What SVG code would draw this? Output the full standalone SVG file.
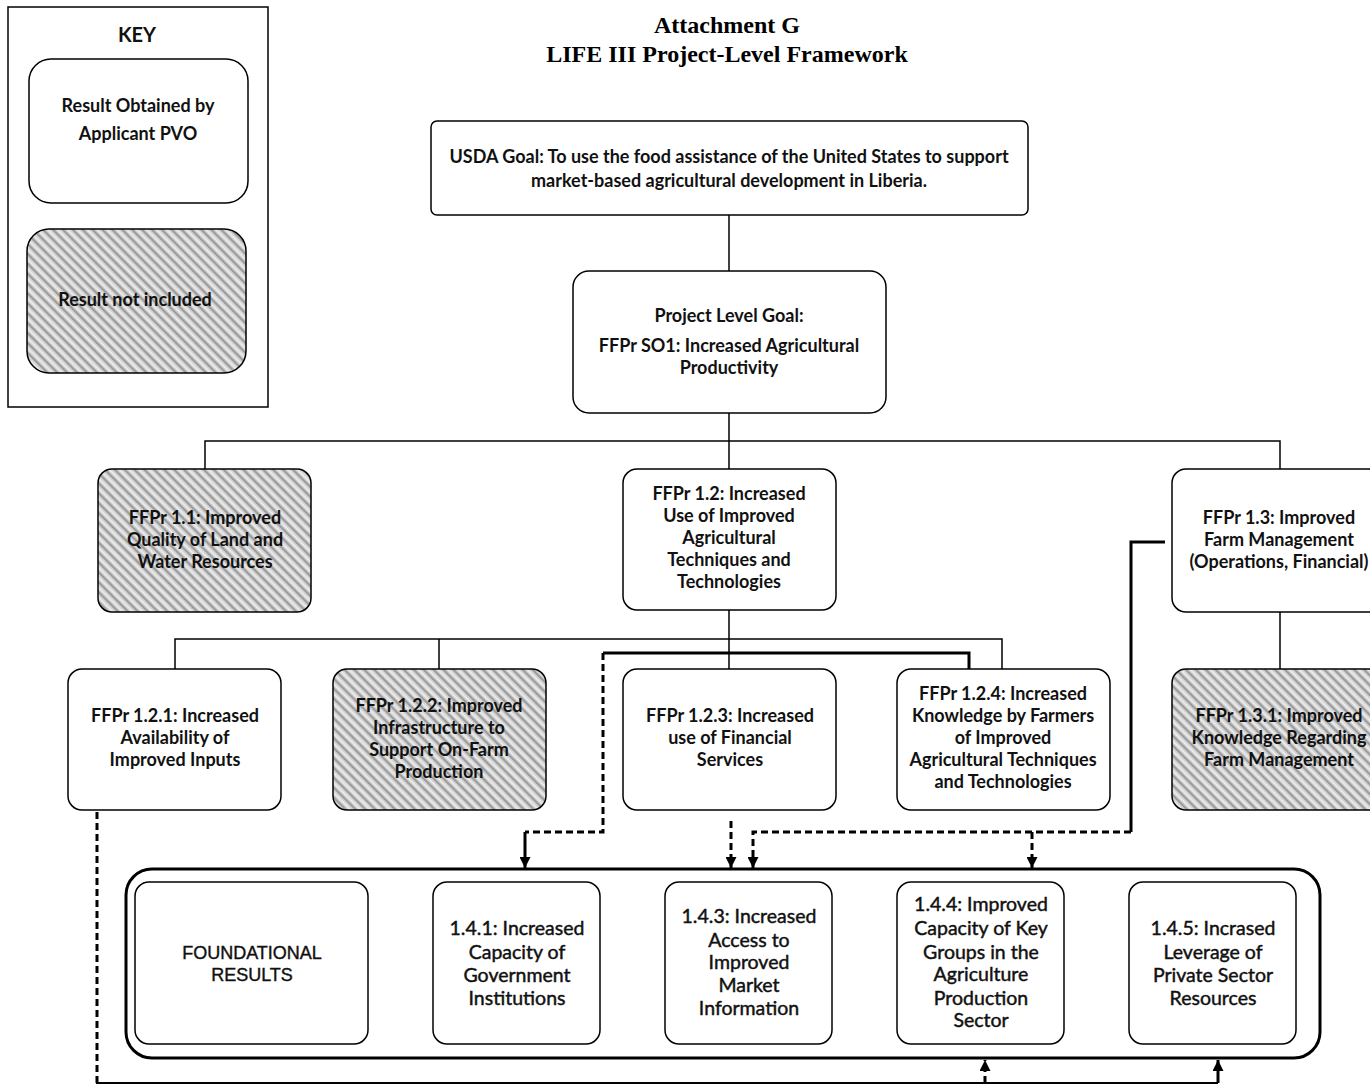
<svg xmlns="http://www.w3.org/2000/svg" width="1370" height="1086" viewBox="0 0 1370 1086">
<style>
  .bg{fill:#ffffff}
  .box{fill:#ffffff;stroke:#000;stroke-width:1.5}
  .hatch{fill:url(#hatch);stroke:#000;stroke-width:1.5}
  .t{font-family:Lato,"Liberation Sans",sans-serif;font-weight:bold;font-size:18px;fill:#111;text-anchor:middle}
  .r{font-family:Lato,"Liberation Sans",sans-serif;font-size:19.5px;fill:#111;stroke:#111;stroke-width:0.45;text-anchor:middle}
  .f{font-family:"Liberation Sans",Arial,sans-serif;font-size:18px;fill:#111;stroke:#111;stroke-width:0.4;text-anchor:middle}
  .title{font-family:"Liberation Serif","Times New Roman",serif;font-weight:bold;font-size:24px;fill:#000;text-anchor:middle}
  .tree{fill:none;stroke:#000;stroke-width:1.5}
  .thick{fill:none;stroke:#000;stroke-width:3}
  .dash{fill:none;stroke:#000;stroke-width:3;stroke-dasharray:7 4}
</style>
<defs>
  <pattern id="hatch" width="7" height="7" patternUnits="userSpaceOnUse" patternTransform="rotate(-45)">
    <rect width="7" height="7" fill="#d2d2d2"/>
    <rect x="0" width="2.2" height="7" fill="#9c9c9c"/>
    <rect x="3.5" width="1.6" height="7" fill="#efefef"/>
  </pattern>
  <marker id="arr" viewBox="0 0 10 10" refX="10" refY="5" markerWidth="11" markerHeight="11" markerUnits="userSpaceOnUse" orient="auto">
    <path d="M0,0 L10,5 L0,10 z" fill="#000"/>
  </marker>
</defs>
<rect class="bg" width="1370" height="1086"/>

<g id="title">
  <text class="title" x="727" y="33">Attachment G</text>
  <text class="title" x="727" y="62">LIFE III Project-Level Framework</text>
</g>

<g id="key">
  <rect x="8" y="7" width="260" height="400" fill="#fff" stroke="#000" stroke-width="1.5"/>
  <text class="t" x="137" y="42" style="font-size:20px">KEY</text>
  <rect class="box" x="29" y="59" width="219" height="144" rx="22"/>
  <text class="t" x="138" y="112">Result Obtained by</text>
  <text class="t" x="138" y="140">Applicant PVO</text>
  <rect class="hatch" x="27" y="229" width="219" height="144" rx="22"/>
  <text class="t" x="135" y="306">Result not included</text>
</g>

<g id="connectors">
  <path class="tree" d="M729,215 V271"/>
  <path class="tree" d="M729,413 V469 M205,469 V441 H1280 V469"/>
  <path class="tree" d="M1280,612 V669"/>
  <path class="tree" d="M729,610 V669 M175,669 V639 H1002 V669 M439,639 V669"/>
  <path class="thick" d="M969,669 V653 H603"/>
  <path class="dash" d="M603,653 V832 H525"/>
  <path class="thick" d="M525,832 V868" marker-end="url(#arr)"/>
  <path class="dash" d="M731,821 V868" marker-end="url(#arr)"/>
  <path class="thick" d="M1165,542 H1131 V832"/>
  <path class="dash" d="M1131,832 H753 V868" marker-end="url(#arr)"/>
  <path class="dash" d="M1032,832 V868" marker-end="url(#arr)"/>
  <path class="dash" d="M97,812 V1083"/>
  <path class="tree" d="M96,1083 H1218" style="stroke-width:2"/>
  <path class="dash" d="M985,1083 V1060" marker-end="url(#arr)"/>
  <path class="thick" d="M1218,1083 V1060" marker-end="url(#arr)"/>
</g>

<g id="usda">
  <rect class="box" x="431" y="121" width="597" height="94" rx="6"/>
  <text class="t" x="729" y="163">USDA Goal: To use the food assistance of the United States to support</text>
  <text class="t" x="729" y="187">market-based agricultural development in Liberia.</text>
</g>

<g id="so1">
  <rect class="box" x="573" y="271" width="313" height="142" rx="16"/>
  <text class="t" x="729" y="322">Project Level Goal:</text>
  <text class="t" x="729" y="352">FFPr SO1: Increased Agricultural</text>
  <text class="t" x="729" y="374">Productivity</text>
</g>

<g id="ffpr11">
  <rect class="hatch" x="98" y="469" width="213" height="143" rx="14"/>
  <text class="t" x="205" y="524">FFPr 1.1: Improved</text>
  <text class="t" x="205" y="546">Quality of Land and</text>
  <text class="t" x="205" y="568">Water Resources</text>
</g>

<g id="ffpr12">
  <rect class="box" x="623" y="469" width="213" height="141" rx="14"/>
  <text class="t" x="729" y="500">FFPr 1.2: Increased</text>
  <text class="t" x="729" y="522">Use of Improved</text>
  <text class="t" x="729" y="544">Agricultural</text>
  <text class="t" x="729" y="566">Techniques and</text>
  <text class="t" x="729" y="588">Technologies</text>
</g>

<g id="ffpr13">
  <rect class="box" x="1172" y="469" width="213" height="143" rx="14"/>
  <text class="t" x="1279" y="524">FFPr 1.3: Improved</text>
  <text class="t" x="1279" y="546">Farm Management</text>
  <text class="t" x="1279" y="568">(Operations, Financial)</text>
</g>

<g id="ffpr131">
  <rect class="hatch" x="1172" y="669" width="213" height="141" rx="14"/>
  <text class="t" x="1279" y="722">FFPr 1.3.1: Improved</text>
  <text class="t" x="1279" y="744">Knowledge Regarding</text>
  <text class="t" x="1279" y="766">Farm Management</text>
</g>

<g id="ffpr121">
  <rect class="box" x="68" y="669" width="213" height="141" rx="14"/>
  <text class="t" x="175" y="722">FFPr 1.2.1: Increased</text>
  <text class="t" x="175" y="744">Availability of</text>
  <text class="t" x="175" y="766">Improved Inputs</text>
</g>

<g id="ffpr122">
  <rect class="hatch" x="333" y="669" width="213" height="141" rx="14"/>
  <text class="t" x="439" y="712">FFPr 1.2.2: Improved</text>
  <text class="t" x="439" y="734">Infrastructure to</text>
  <text class="t" x="439" y="756">Support On-Farm</text>
  <text class="t" x="439" y="778">Production</text>
</g>

<g id="ffpr123">
  <rect class="box" x="623" y="669" width="213" height="141" rx="14"/>
  <text class="t" x="730" y="722">FFPr 1.2.3: Increased</text>
  <text class="t" x="730" y="744">use of Financial</text>
  <text class="t" x="730" y="766">Services</text>
</g>

<g id="ffpr124">
  <rect class="box" x="897" y="669" width="213" height="141" rx="14"/>
  <text class="t" x="1003" y="700">FFPr 1.2.4: Increased</text>
  <text class="t" x="1003" y="722">Knowledge by Farmers</text>
  <text class="t" x="1003" y="744">of Improved</text>
  <text class="t" x="1003" y="766">Agricultural Techniques</text>
  <text class="t" x="1003" y="788">and Technologies</text>
</g>

<g id="foundational-group">
  <rect x="126" y="869" width="1194" height="189" rx="26" fill="none" stroke="#000" stroke-width="3"/>
</g>

<g id="foundational">
  <rect class="box" x="135" y="882" width="233" height="162" rx="14"/>
  <text class="f" x="252" y="959">FOUNDATIONAL</text>
  <text class="f" x="252" y="981">RESULTS</text>
</g>

<g id="r141">
  <rect class="box" x="433" y="882" width="167" height="162" rx="14"/>
  <text class="r" x="517" y="935">1.4.1: Increased</text>
  <text class="r" x="517" y="959">Capacity of</text>
  <text class="r" x="517" y="982">Government</text>
  <text class="r" x="517" y="1005">Institutions</text>
</g>

<g id="r143">
  <rect class="box" x="665" y="882" width="167" height="162" rx="14"/>
  <text class="r" x="749" y="923">1.4.3: Increased</text>
  <text class="r" x="749" y="947">Access to</text>
  <text class="r" x="749" y="969">Improved</text>
  <text class="r" x="749" y="992">Market</text>
  <text class="r" x="749" y="1015">Information</text>
</g>

<g id="r144">
  <rect class="box" x="897" y="882" width="167" height="162" rx="14"/>
  <text class="r" x="981" y="911">1.4.4: Improved</text>
  <text class="r" x="981" y="935">Capacity of Key</text>
  <text class="r" x="981" y="959">Groups in the</text>
  <text class="r" x="981" y="981">Agriculture</text>
  <text class="r" x="981" y="1005">Production</text>
  <text class="r" x="981" y="1027">Sector</text>
</g>

<g id="r145">
  <rect class="box" x="1129" y="882" width="167" height="162" rx="14"/>
  <text class="r" x="1213" y="935">1.4.5: Incrased</text>
  <text class="r" x="1213" y="959">Leverage of</text>
  <text class="r" x="1213" y="982">Private Sector</text>
  <text class="r" x="1213" y="1005">Resources</text>
</g>
</svg>
